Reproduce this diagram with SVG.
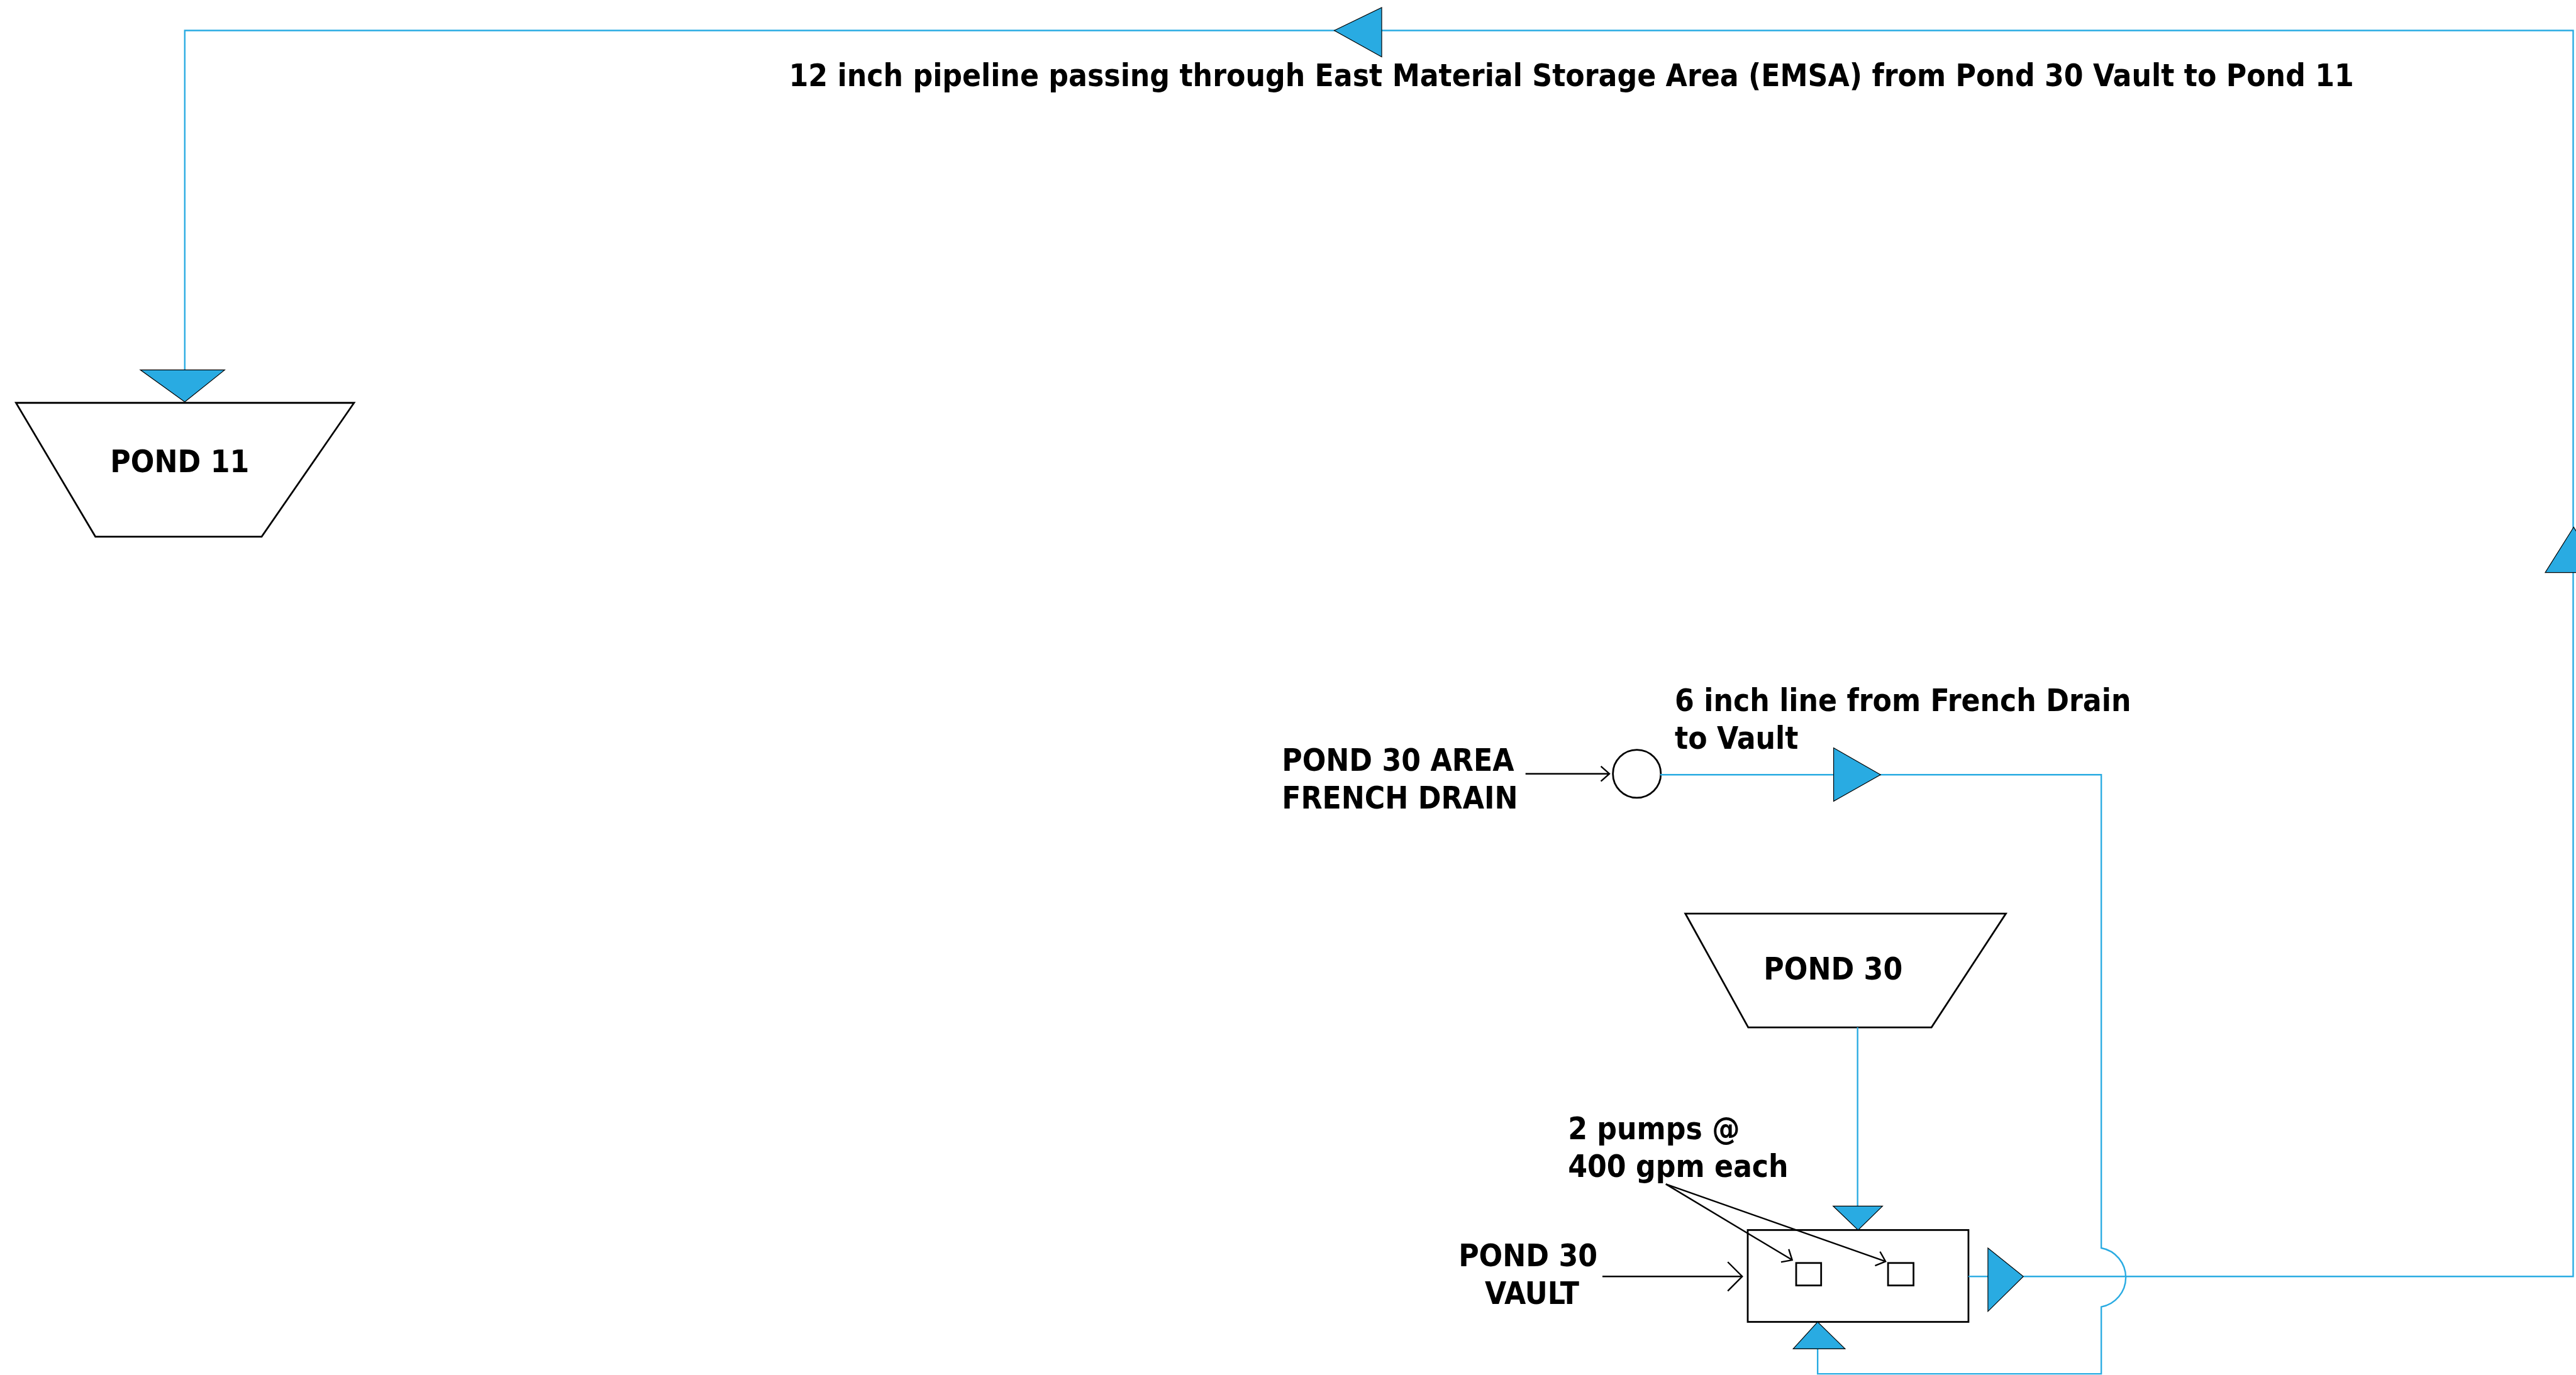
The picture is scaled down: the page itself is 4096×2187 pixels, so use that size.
<svg xmlns="http://www.w3.org/2000/svg" width="4096" height="2187" viewBox="0 0 4096 2187">
<style>
.lbl{font-family:'DejaVu Sans Condensed','DejaVu Sans',sans-serif;font-weight:bold;font-size:62px;fill:#000}
.pipe{fill:none;stroke:#29ABE2;stroke-width:3}
.flow{fill:#29ABE2;stroke:#000;stroke-width:1.5;stroke-linejoin:miter}
.shape{fill:#fff;stroke:#000;stroke-width:3.5}
.ptr{fill:none;stroke:#000;stroke-width:3}
</style>
<defs>
<marker id="arrS" markerUnits="userSpaceOnUse" markerWidth="40" markerHeight="40" viewBox="-20 -20 40 40" refX="0" refY="0" orient="auto">
<path d="M-17,-15 L0,0 L-17,15" fill="none" stroke="#000" stroke-width="3"/>
</marker>
<marker id="arrL" markerUnits="userSpaceOnUse" markerWidth="70" markerHeight="70" viewBox="-35 -35 70 70" refX="0" refY="0" orient="auto">
<path d="M-29,-29 L0,0 L-29,29" fill="none" stroke="#000" stroke-width="3"/>
</marker>
</defs>
<rect width="4096" height="2187" fill="#fff"/>
<g transform="scale(0.794)">
<g id="pipeline-label">
<text class="lbl" x="3147" y="173" text-anchor="middle">12 inch pipeline passing through East Material Storage Area (EMSA) from Pond 30 Vault to Pond 11</text>
</g>
<g id="pond11">
<polygon class="shape" points="32,807 709,807 524,1075 191,1075"/>
<text class="lbl" x="360" y="946" text-anchor="middle">POND 11</text>
</g>
<g id="french-drain">
<circle class="shape" cx="3278" cy="1550" r="48" stroke-width="3"/>
<text class="lbl" x="2567" y="1544">POND 30 AREA</text>
<text class="lbl" x="2567" y="1620">FRENCH DRAIN</text>
</g>
<g id="french-drain-line-label">
<text class="lbl" x="3354" y="1425">6 inch line from French Drain</text>
<text class="lbl" x="3354" y="1500">to Vault</text>
</g>
<g id="pond30">
<polygon class="shape" points="3375,1830 4017,1830 3868,2058 3501,2058"/>
<text class="lbl" x="3671" y="1962" text-anchor="middle">POND 30</text>
</g>
<g id="vault">
<rect class="shape" x="3500" y="2464" width="442" height="184"/>
<rect class="shape" x="3597" y="2530" width="50" height="45" stroke-width="3"/>
<rect class="shape" x="3781" y="2530" width="51" height="45" stroke-width="3"/>
<text class="lbl" x="3060" y="2536" text-anchor="middle">POND 30</text>
<text class="lbl" x="3068" y="2612" text-anchor="middle">VAULT</text>
</g>
<g id="pumps-label">
<text class="lbl" x="3140" y="2282">2 pumps @</text>
<text class="lbl" x="3140" y="2358">400 gpm each</text>
</g>
<g id="connectors">
<path class="pipe" d="M4052,2557 H5153 V61 H370 V741"/>
<path class="pipe" d="M3942,2557 H3981"/>
<path class="pipe" d="M3325,1552 H4208 V2500 A60,60 0 0 1 4208,2618 V2752 H3640 V2702"/>
<path class="pipe" d="M3720,2058 V2416"/>
<path class="ptr" d="M3055,1550 H3223" marker-end="url(#arrS)"/>
<path class="ptr" d="M3209,2557 H3489" marker-end="url(#arrL)"/>
<path class="ptr" d="M3336,2372 L3589,2524" marker-end="url(#arrS)"/>
<path class="ptr" d="M3336,2372 L3776,2527" marker-end="url(#arrS)"/>
<polygon class="flow" points="281,741 450,741 370,805"/>
<polygon class="flow" points="2672,61 2767,15 2767,114"/>
<polygon class="flow" points="5154,1056 5097,1147 5211,1147"/>
<polygon class="flow" points="3672,1498 3672,1605 3766,1552"/>
<polygon class="flow" points="3671,2416 3770,2416 3721,2464"/>
<polygon class="flow" points="3981,2500 3981,2627 4052,2557"/>
<polygon class="flow" points="3591,2702 3695,2702 3640,2648"/>
</g>
</g>
</svg>
